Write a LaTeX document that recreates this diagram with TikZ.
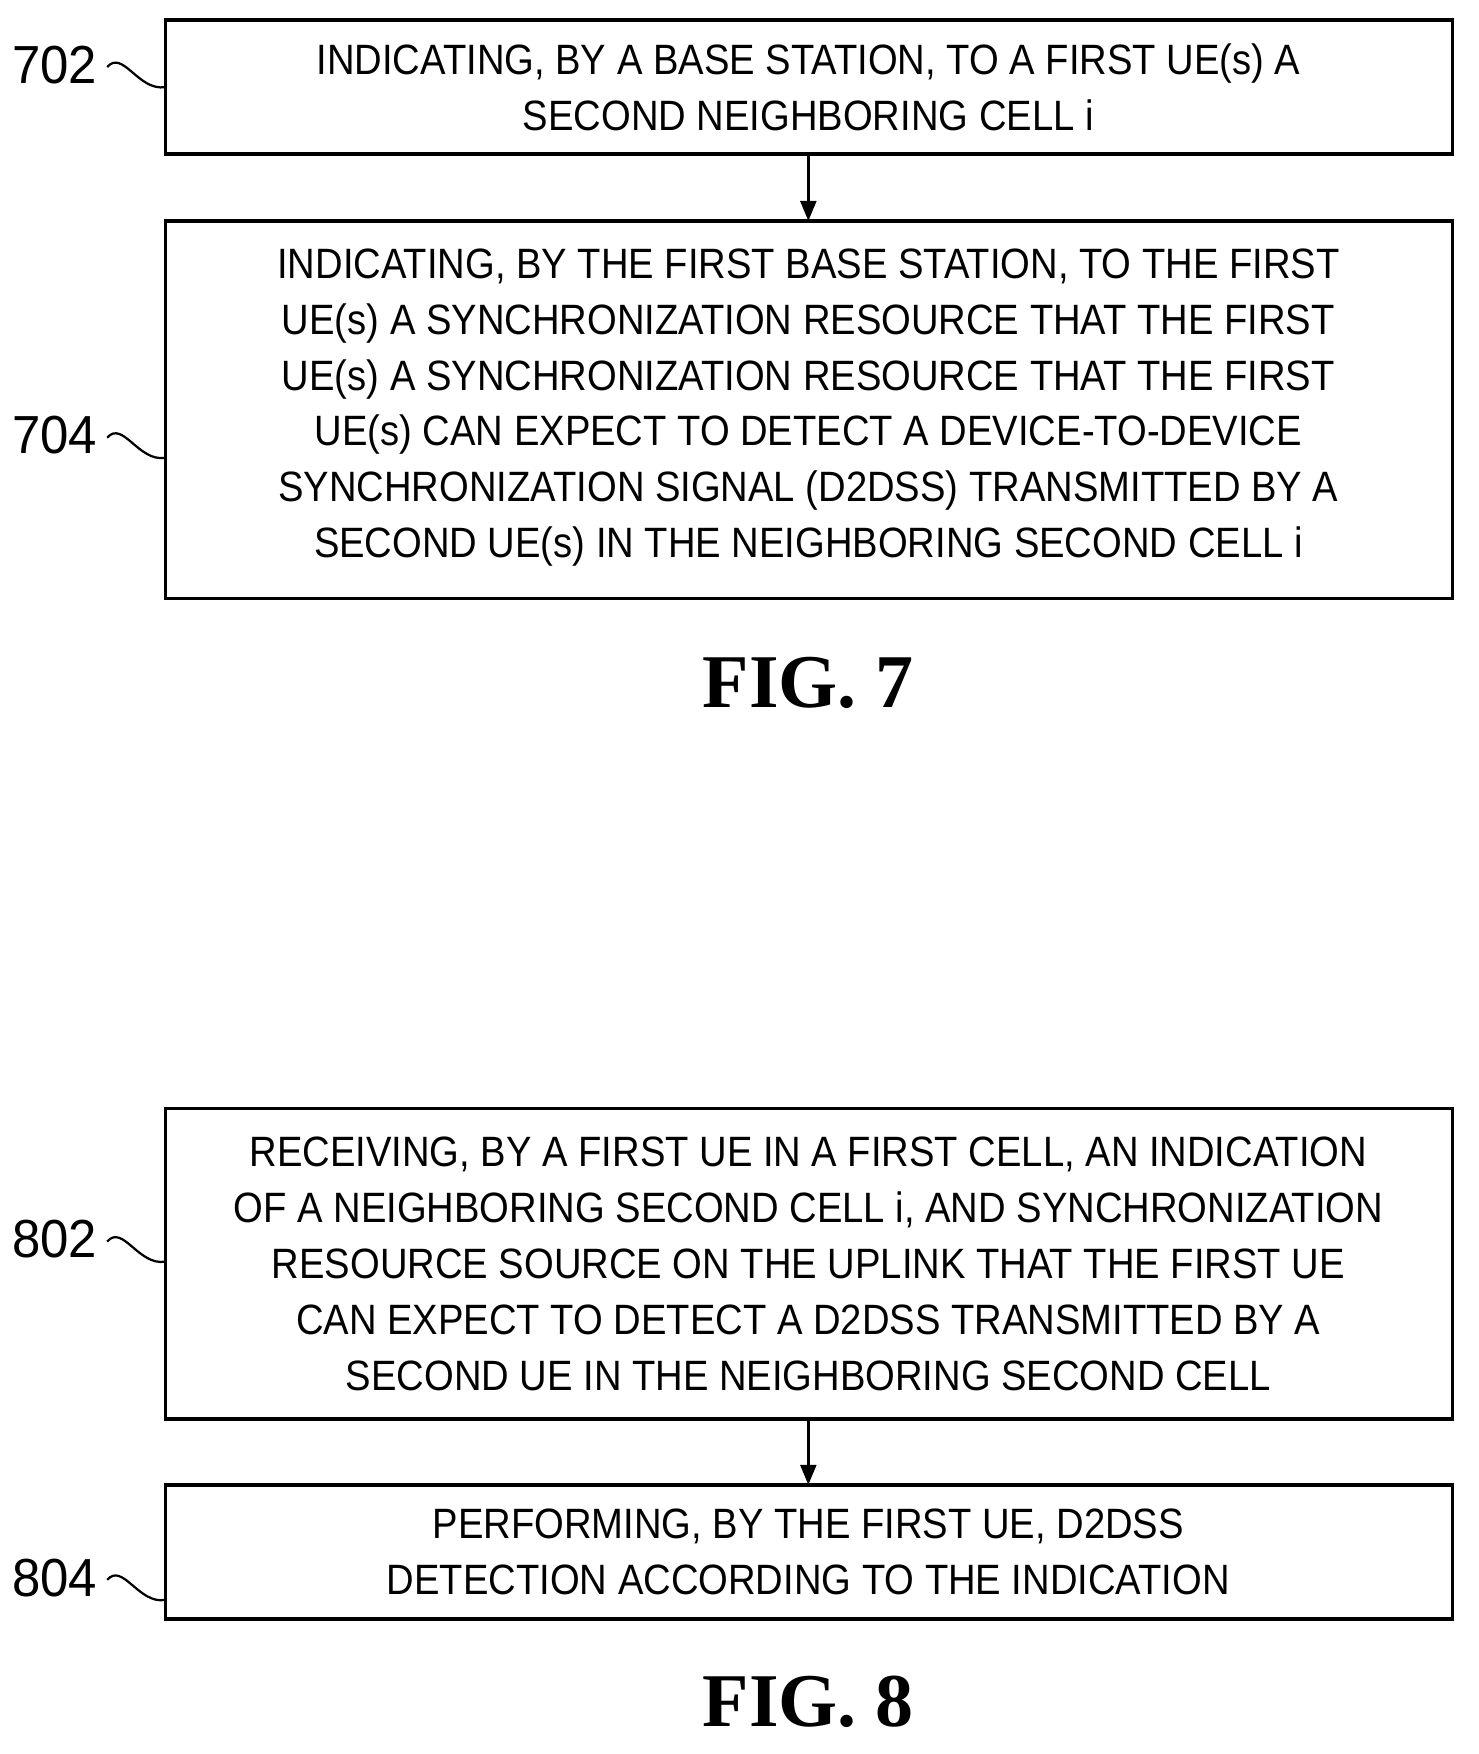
\documentclass[tikz,border=0pt]{standalone}
\usepackage{fontspec}
\setmainfont{Liberation Sans}[FakeStretch=0.9]
\newfontfamily\figfont{Liberation Serif}
\newfontfamily\labfont{Liberation Sans}[FakeStretch=0.95]
\usetikzlibrary{arrows.meta}
\begin{document}
\begin{tikzpicture}[x=0.5pt,y=-0.5pt,
 box/.style={draw,line width=1.5pt,inner sep=0pt},
 txt/.style={align=center,font=\fontsize{19}{25}\selectfont},
 lab/.style={font=\labfont\fontsize{24}{25}\selectfont,anchor=east},
 arr/.style={line width=1.5pt,-{Triangle[length=9pt,width=7pt]}},
 sq/.style={line width=1pt},
 fig/.style={font=\figfont\bfseries\fontsize{34}{40}\selectfont}]
\useasboundingbox (0,0) rectangle (1324,1571);
\draw[box] (148,18) rectangle (1301,138);
\node[txt] (t1) at (724,78) {INDICATING, BY A BASE STATION, TO A FIRST UE(s) A\\SECOND NEIGHBORING CELL i};
\draw[box] (148,198) rectangle (1301,536);
\node[txt] (t2) at (724,365) {INDICATING, BY THE FIRST BASE STATION, TO THE FIRST\\UE(s) A SYNCHRONIZATION RESOURCE THAT THE FIRST\\UE(s) A SYNCHRONIZATION RESOURCE THAT THE FIRST\\UE(s) CAN EXPECT TO DETECT A DEVICE-TO-DEVICE\\SYNCHRONIZATION SIGNAL (D2DSS) TRANSMITTED BY A\\SECOND UE(s) IN THE NEIGHBORING SECOND CELL i};
\coordinate (a1) at (724,138); \coordinate (a2) at (724,198);
\draw[arr] (a1) -- (a2);
\node[fig] (f7) at (724,612) {FIG. 7};
\draw[box] (148,993) rectangle (1301,1271);
\node[txt] (t3) at (724,1132) {RECEIVING, BY A FIRST UE IN A FIRST CELL, AN INDICATION\\OF A NEIGHBORING SECOND CELL i, AND SYNCHRONIZATION\\RESOURCE SOURCE ON THE UPLINK THAT THE FIRST UE\\CAN EXPECT TO DETECT A D2DSS TRANSMITTED BY A\\SECOND UE IN THE NEIGHBORING SECOND CELL};
\draw[box] (148,1330) rectangle (1301,1450);
\node[txt] (t4) at (724,1390) {PERFORMING, BY THE FIRST UE, D2DSS\\DETECTION ACCORDING TO THE INDICATION};
\coordinate (a3) at (724,1271); \coordinate (a4) at (724,1330);
\draw[arr] (a3) -- (a4);
\node[fig] (f8) at (724,1524) {FIG. 8};
\foreach \n/\y in {702/58,704/390,802/1110,804/1413}{
  \node[lab] (l\n) at (94,\y) {\n};
  \draw[sq] (96,\y+2) .. controls (110,\y-14) and (124,\y+24) .. (148,\y+20);
}
\end{tikzpicture}
\end{document}
